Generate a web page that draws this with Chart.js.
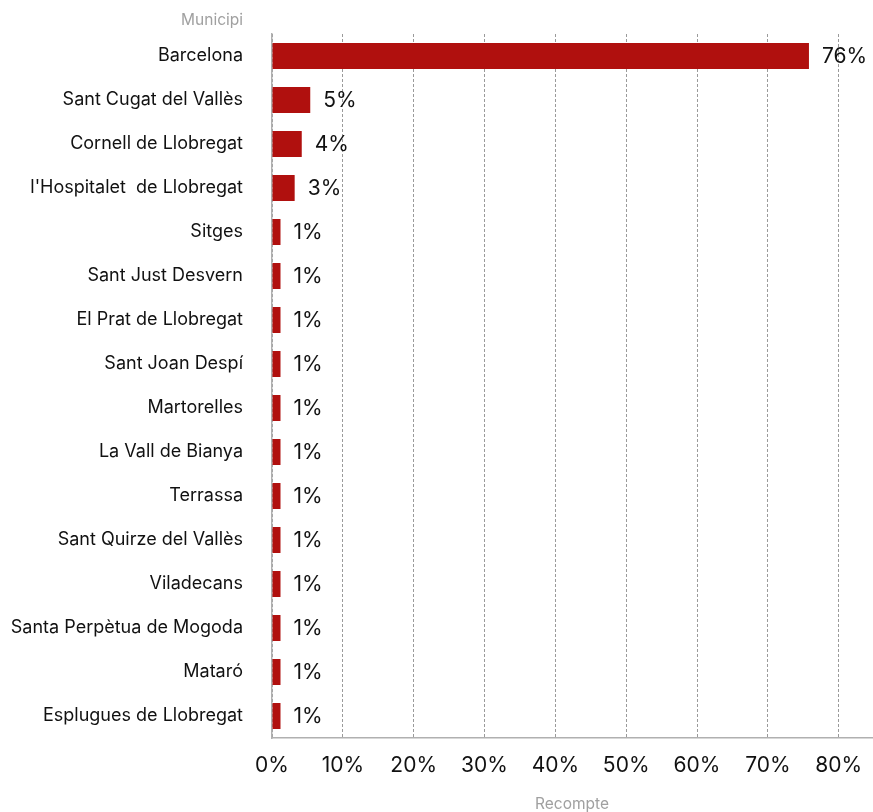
<!DOCTYPE html>
<html>
<head>
<meta charset="utf-8">
<script src="https://cdn.jsdelivr.net/npm/chart.js@4/dist/chart.umd.min.js"></script>
<style>
  html, body { margin: 0; padding: 0; background: #fff; }
  #wrap { width: 873px; height: 812px; position: relative; }
</style>
</head>
<body>
<div id="wrap"><canvas id="c" width="873" height="812"></canvas></div>
<script>
// Share of records per municipality (%)
const municipis = [
  'Barcelona',
  'Sant Cugat del Vallès',
  'Cornell de Llobregat',
  "l'Hospitalet  de Llobregat",
  'Sitges',
  'Sant Just Desvern',
  'El Prat de Llobregat',
  'Sant Joan Despí',
  'Martorelles',
  'La Vall de Bianya',
  'Terrassa',
  'Sant Quirze del Vallès',
  'Viladecans',
  'Santa Perpètua de Mogoda',
  'Mataró',
  'Esplugues de Llobregat'
];
const recompte = [75.8, 5.4, 4.2, 3.2, 1.2, 1.2, 1.2, 1.2, 1.2, 1.2, 1.2, 1.2, 1.2, 1.2, 1.2, 1.2];
const xTicks = [0, 10, 20, 30, 40, 50, 60, 70, 80];
const xMax = 84.7;

const FONT = 'Inter, "Noto Sans", sans-serif';

// Value labels at the end of each bar, plus the category-axis title above the labels
const barLabels = {
  id: 'barLabels',
  afterDatasetsDraw(chart) {
    const ctx = chart.ctx;
    const meta = chart.getDatasetMeta(0);
    ctx.save();
    ctx.font = '21px ' + FONT;
    ctx.fillStyle = '#111';
    ctx.textAlign = 'left';
    ctx.textBaseline = 'middle';
    meta.data.forEach((bar, i) => {
      ctx.fillText(Math.round(recompte[i]) + '%', bar.x + 13, bar.y + 1);
    });
    // y-axis title
    const ys = chart.scales.y;
    ctx.font = '15.5px ' + FONT;
    ctx.fillStyle = '#a0a0a0';
    ctx.textAlign = 'right';
    ctx.fillText('Municipi', ys.right - 29, 20);
    ctx.restore();
  }
};

new Chart(document.getElementById('c'), {
  type: 'bar',
  data: {
    labels: municipis,
    datasets: [{
      data: recompte,
      backgroundColor: '#b0100e',
      borderWidth: 0,
      categoryPercentage: 1,
      barPercentage: 0.59
    }]
  },
  options: {
    indexAxis: 'y',
    responsive: false,
    animation: false,
    devicePixelRatio: 1,
    layout: { padding: { top: 34, right: 1, left: 0, bottom: 0 } },
    plugins: {
      legend: { display: false },
      tooltip: { enabled: false }
    },
    scales: {
      x: {
        min: 0,
        max: xMax,
        afterBuildTicks(scale) {
          scale.ticks = xTicks.map(v => ({ value: v }));
        },
        afterFit(scale) {
          scale.height = 74;
          scale.paddingLeft = 0;
          scale.paddingRight = 0;
        },
        grid: {
          color: '#9a9a9a',
          lineWidth: 1,
          drawTicks: false
        },
        border: { display: true, color: '#b0b0b0', width: 1.5, dash: [3, 2] },
        ticks: {
          color: '#111',
          font: { family: FONT, size: 21 },
          padding: 15,
          callback: v => v + '%'
        },
        title: {
          display: true,
          text: 'Recompte',
          color: '#a0a0a0',
          font: { family: FONT, size: 15.5 },
          padding: { top: 0, bottom: -2 }
        }
      },
      y: {
        afterFit(scale) {
          scale.width = 272;
          scale.paddingTop = 0;
          scale.paddingBottom = 0;
        },
        grid: { display: false, drawTicks: false },
        border: { display: true, color: '#b0b0b0', width: 1.5 },
        ticks: {
          color: '#111',
          font: { family: FONT, size: 18 },
          padding: 29
        }
      }
    }
  },
  plugins: [barLabels]
});
</script>
</body>
</html>
